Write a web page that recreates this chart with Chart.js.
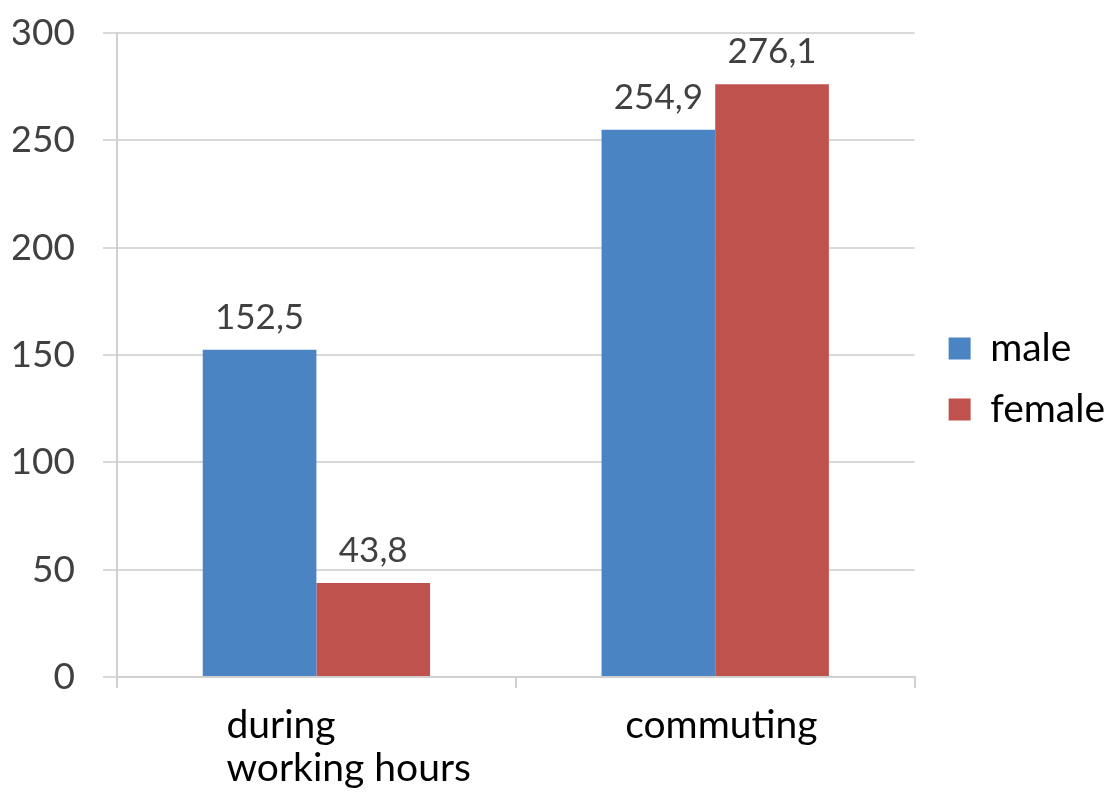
<!DOCTYPE html>
<html>
<head>
<meta charset="utf-8">
<script src="https://cdn.jsdelivr.net/npm/chart.js@4/dist/chart.umd.min.js"></script>
<style>
html,body{margin:0;padding:0;background:#fff;}
#wrap{width:1109px;height:797px;position:relative;}
</style>
</head>
<body>
<div id="wrap"><canvas id="c" width="1109" height="797"></canvas></div>
<script>
const categories = [["during", "working hours"], "commuting"];
const seriesNames = ["male", "female"];
const maleValues = [152.5, 254.9];
const femaleValues = [43.8, 276.1];
const yTicks = [0, 50, 100, 150, 200, 250, 300];

const FONT = "Lato, 'Open Sans', sans-serif";

const dataLabelPlugin = {
  id: 'dataLabels',
  afterDatasetsDraw(chart) {
    const ctx = chart.ctx;
    ctx.save();
    ctx.font = "35px " + FONT;
    ctx.fillStyle = '#404040';
    ctx.textAlign = 'center';
    ctx.textBaseline = 'alphabetic';
    chart.data.datasets.forEach((ds, di) => {
      const meta = chart.getDatasetMeta(di);
      meta.data.forEach((bar, i) => {
        const v = ds.data[i];
        ctx.fillText(v.toFixed(1).replace('.', ','), bar.x, bar.y - 21);
      });
    });
    ctx.restore();
  }
};

const legendShift = {
  id: 'legendShift',
  afterLayout(chart) {
    const lg = chart.legend;
    if (lg) { lg.left += 12; lg.right += 12; lg.top -= 20; lg.bottom -= 20; }
  }
};

new Chart(document.getElementById('c'), {
  type: 'bar',
  data: {
    labels: categories,
    datasets: [
      { label: seriesNames[0], data: maleValues, backgroundColor: '#4a84c2', barPercentage: 1, categoryPercentage: 0.57 },
      { label: seriesNames[1], data: femaleValues, backgroundColor: '#c0524d', barPercentage: 1, categoryPercentage: 0.57 }
    ]
  },
  options: {
    responsive: false,
    animation: false,
    devicePixelRatio: 1,
    layout: { padding: { left: 13, top: 1, right: 6, bottom: 0 } },
    plugins: {
      tooltip: { enabled: false },
      legend: {
        position: 'right',
        align: 'center',
        labels: {
          boxWidth: 22,
          boxHeight: 22,
          padding: 22,
          color: '#000',
          font: { family: FONT, size: 39 }
        }
      }
    },
    scales: {
      x: {
        afterFit(scale) { scale.height = 120; },
        grid: { display: true, drawOnChartArea: false, drawTicks: true, tickLength: 11, color: '#d0d0d0', lineWidth: 2, offset: true },
        border: { display: true, color: '#d0d0d0', width: 2 },
        ticks: {
          color: '#000',
          font: { family: FONT, size: 39, lineHeight: 1.1 },
          align: 'start',
          labelOffset: -90,
          padding: 16,
          maxRotation: 0
        }
      },
      y: {
        min: 0, max: 300,
        afterBuildTicks(scale) { scale.ticks = yTicks.map(v => ({ value: v })); },
        afterFit(scale) { scale.width = 104; scale.paddingTop = 33; scale.paddingBottom = 0; },
        grid: { color: '#d9d9d9', lineWidth: 2, tickLength: 14 },
        border: { display: true, color: '#d0d0d0', width: 2 },
        ticks: {
          color: '#404040',
          font: { family: FONT, size: 37 },
          padding: 28
        }
      }
    }
  },
  plugins: [dataLabelPlugin, legendShift]
});
</script>
</body>
</html>
